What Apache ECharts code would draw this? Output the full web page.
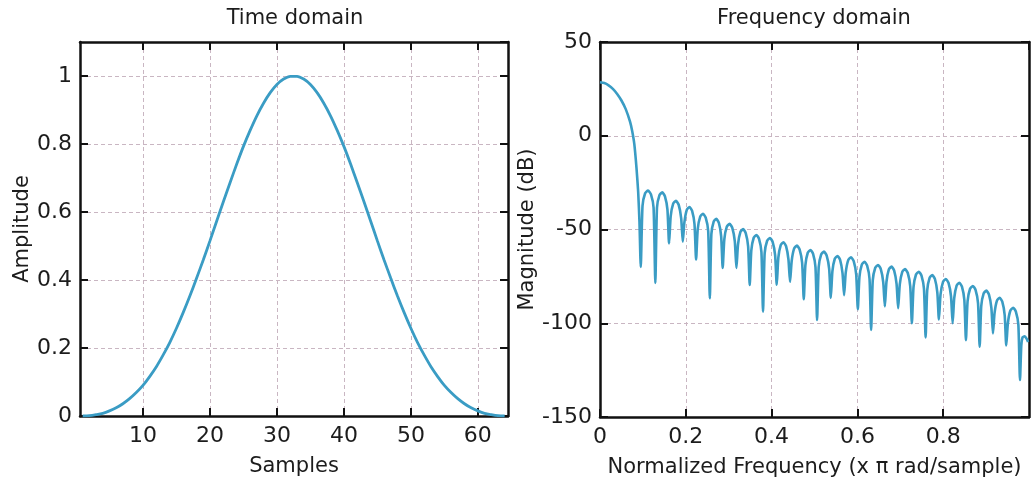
<!DOCTYPE html>
<html>
<head>
<meta charset="utf-8">
<script src="https://cdn.jsdelivr.net/npm/echarts@6/dist/echarts.min.js"></script>
<style>
  html, body { margin: 0; background: #fff; }
  #chart { width: 1033px; height: 480px; }
</style>
</head>
<body>
<div id="chart"></div>
<script>
// time domain: window samples 1..64
const samples = Array.from({ length: 64 }, (_, i) => i + 1);
const amplitude = [
  0, 0.001, 0.004, 0.008, 0.015, 0.024, 0.036, 0.051, 0.069, 0.090, 0.116, 0.145, 0.179, 0.216, 0.258, 0.304,
  0.353, 0.405, 0.459, 0.515, 0.573, 0.630, 0.686, 0.741, 0.793, 0.840, 0.883, 0.920, 0.951, 0.975, 0.991, 0.999,
  0.999, 0.991, 0.975, 0.951, 0.920, 0.883, 0.840, 0.793, 0.741, 0.686, 0.630, 0.573, 0.515, 0.459, 0.405, 0.353,
  0.304, 0.258, 0.216, 0.179, 0.145, 0.116, 0.090, 0.069, 0.051, 0.036, 0.024, 0.015, 0.008, 0.004, 0.001, 0
];
const sampleTicks = [10, 20, 30, 40, 50, 60];

// frequency domain (normalized freq, dB)
const mainLobe = [
  [0, 28.5], [0.01, 28.1], [0.02, 26.9], [0.03, 25.0], [0.04, 22.3], [0.05, 18.8], [0.06, 14.2],
  [0.07, 7.5], [0.075, 2.5], [0.08, -4.5], [0.085, -17], [0.089, -30], [0.092, -46]
];
const nullFreq = [0.095, 0.129, 0.161, 0.193, 0.224, 0.256, 0.286, 0.318, 0.349, 0.380, 0.412, 0.443, 0.475, 0.506, 0.538,
  0.569, 0.601, 0.632, 0.664, 0.695, 0.727, 0.759, 0.790, 0.822, 0.853, 0.885, 0.916, 0.947, 0.979];
const nullDb = [-70, -78.5, -57.4, -56.5, -66, -86.7, -70.5, -70.5, -79.6, -93.8, -79.5, -77.9, -87.2, -98.3, -86.5,
  -85, -92.5, -103.6, -91, -92, -100, -107.6, -98, -100, -109, -112.5, -105.4, -111.8, -130.3];
// sidelobe arcs between consecutive nulls
const lobeFreq = [
  [0.0991, 0.1052, 0.112, 0.1188, 0.1249],
  [0.1328, 0.1386, 0.145, 0.1514, 0.1572],
  [0.1648, 0.1706, 0.177, 0.1834, 0.1892],
  [0.1967, 0.2023, 0.2085, 0.2147, 0.2203],
  [0.2278, 0.2336, 0.240, 0.2464, 0.2522],
  [0.2596, 0.265, 0.271, 0.277, 0.2824],
  [0.2898, 0.2956, 0.302, 0.3084, 0.3142],
  [0.3217, 0.3273, 0.3335, 0.3397, 0.3453],
  [0.3527, 0.3583, 0.3645, 0.3707, 0.3763],
  [0.3838, 0.3896, 0.396, 0.4024, 0.4082],
  [0.4157, 0.4213, 0.4275, 0.4337, 0.4393],
  [0.4468, 0.4526, 0.459, 0.4654, 0.4712],
  [0.4787, 0.4843, 0.4905, 0.4967, 0.5023],
  [0.5098, 0.5156, 0.522, 0.5284, 0.5342],
  [0.5417, 0.5473, 0.5535, 0.5597, 0.5653],
  [0.5728, 0.5786, 0.585, 0.5914, 0.5972],
  [0.6047, 0.6103, 0.6165, 0.6227, 0.6283],
  [0.6358, 0.6416, 0.648, 0.6544, 0.6602],
  [0.6677, 0.6733, 0.6795, 0.6857, 0.6913],
  [0.6988, 0.7046, 0.711, 0.7174, 0.7232],
  [0.7308, 0.7366, 0.743, 0.7494, 0.7552],
  [0.7627, 0.7683, 0.7745, 0.7807, 0.7863],
  [0.7938, 0.7996, 0.806, 0.8124, 0.8182],
  [0.8257, 0.8313, 0.8375, 0.8437, 0.8493],
  [0.8568, 0.8626, 0.869, 0.8754, 0.8812],
  [0.8887, 0.8943, 0.9005, 0.9067, 0.9123],
  [0.9197, 0.9253, 0.9315, 0.9377, 0.9433],
  [0.9508, 0.9566, 0.963, 0.9694, 0.9752]
];
const lobeDb = [
  [-37.4, -30.7, -29.2, -31.3, -38.4],
  [-38.4, -31.7, -30.2, -32.3, -39.4],
  [-42.9, -36.2, -34.7, -36.8, -43.9],
  [-46.2, -39.5, -38, -40.1, -47.2],
  [-49.8, -43.1, -41.6, -43.7, -50.8],
  [-52.5, -45.8, -44.3, -46.4, -53.5],
  [-55.2, -48.5, -47, -49.1, -56.2],
  [-58, -51.3, -49.8, -51.9, -59],
  [-61.1, -54.4, -52.9, -55, -62.1],
  [-62.7, -56, -54.5, -56.6, -63.7],
  [-65, -58.3, -56.8, -58.9, -66],
  [-66.8, -60.1, -58.6, -60.7, -67.8],
  [-69.1, -62.4, -60.9, -63, -70.1],
  [-70, -63.3, -61.8, -63.9, -71],
  [-72.3, -65.6, -64.1, -66.2, -73.3],
  [-73, -66.3, -64.8, -66.9, -74],
  [-75.4, -68.7, -67.2, -69.3, -76.4],
  [-77.1, -70.4, -68.9, -71, -78.1],
  [-78, -71.3, -69.8, -71.9, -79],
  [-79.3, -72.6, -71.1, -73.2, -80.3],
  [-80.7, -74, -72.5, -74.6, -81.7],
  [-82.5, -75.8, -74.3, -76.4, -83.5],
  [-84.6, -77.9, -76.4, -78.5, -85.6],
  [-86.6, -79.9, -78.4, -80.5, -87.6],
  [-88.3, -81.6, -80.1, -82.2, -89.3],
  [-90.8, -84.1, -82.6, -84.7, -91.8],
  [-94.6, -87.9, -86.4, -88.5, -95.6],
  [-99.9, -93.2, -91.7, -93.8, -100.9]
];
const tailArc = [[0.982, -112], [0.985, -107.5], [0.99, -107], [0.995, -108.5], [0.998, -110]];

const spectrum = mainLobe.slice();
nullFreq.forEach((f, i) => {
  spectrum.push([f, nullDb[i]]);
  if (i < lobeFreq.length) {
    lobeFreq[i].forEach((lf, j) => spectrum.push([lf, lobeDb[i][j]]));
  }
});
spectrum.push(...tailArc);

const FONT = 'DejaVu Sans';
const ink = '#1c1c1c';
const curveColor = '#3a9cc4';

const gridLine = { show: true, lineStyle: { color: '#c9b6c2', type: [4, 3], width: 1 } };
const frame = { show: true, onZero: false, lineStyle: { color: '#111', width: 2.5 } };
const tick = { show: true, inside: true, length: 8, lineStyle: { color: '#111', width: 2 } };
const label = { fontFamily: FONT, fontSize: 22, color: ink };
const nameStyle = { fontFamily: FONT, fontSize: 21, color: ink };

const chart = echarts.init(document.getElementById('chart'));

chart.setOption({
  animation: false,
  backgroundColor: '#fff',
  grid: [
    { left: 80, top: 42, width: 428, height: 374, outerBoundsMode: 'none', containLabel: false },
    { left: 600, top: 42, width: 429, height: 375, outerBoundsMode: 'none', containLabel: false }
  ],
  graphic: [
    { type: 'text', x: 295, y: 19, style: { text: 'Time domain', font: '21px "DejaVu Sans"', fill: ink, textAlign: 'center', textVerticalAlign: 'middle' } },
    { type: 'text', x: 814, y: 19, style: { text: 'Frequency domain', font: '21px "DejaVu Sans"', fill: ink, textAlign: 'center', textVerticalAlign: 'middle' } }
  ],
  xAxis: [
    {
      gridIndex: 0, type: 'value', position: 'bottom', min: 0.6, max: 64.5,
      axisLine: frame,
      axisTick: { ...tick, customValues: sampleTicks },
      axisLabel: { ...label, margin: 9, customValues: sampleTicks },
      splitLine: gridLine,
      name: 'Samples', nameLocation: 'middle', nameGap: 40, nameTextStyle: nameStyle
    },
    {
      gridIndex: 0, type: 'value', position: 'top', min: 0.6, max: 64.5,
      axisLine: frame,
      axisTick: { ...tick, customValues: sampleTicks },
      axisLabel: { show: false, customValues: sampleTicks },
      splitLine: { show: false }
    },
    {
      gridIndex: 1, type: 'value', position: 'bottom', min: 0, max: 1, interval: 0.2,
      axisLine: frame, axisTick: tick,
      axisLabel: { ...label, margin: 9, showMaxLabel: false },
      splitLine: gridLine,
      name: 'Normalized Frequency (x \u03c0 rad/sample)', nameLocation: 'middle', nameGap: 40, nameTextStyle: nameStyle
    },
    {
      gridIndex: 1, type: 'value', position: 'top', min: 0, max: 1, interval: 0.2,
      axisLine: frame, axisTick: tick, axisLabel: { show: false }, splitLine: { show: false }
    }
  ],
  yAxis: [
    {
      gridIndex: 0, type: 'value', position: 'left', min: 0, max: 1.1, interval: 0.2,
      axisLine: frame, axisTick: tick,
      axisLabel: { ...label, margin: 8, showMaxLabel: false },
      splitLine: gridLine,
      name: 'Amplitude', nameLocation: 'middle', nameGap: 46, nameTextStyle: nameStyle
    },
    {
      gridIndex: 0, type: 'value', position: 'right', min: 0, max: 1.1, interval: 0.2,
      axisLine: frame, axisTick: tick, axisLabel: { show: false }, splitLine: { show: false }
    },
    {
      gridIndex: 1, type: 'value', position: 'left', min: -150, max: 50, interval: 50,
      axisLine: frame, axisTick: tick,
      axisLabel: { ...label, margin: 8 },
      splitLine: gridLine,
      name: 'Magnitude (dB)', nameLocation: 'middle', nameGap: 43, nameTextStyle: nameStyle
    },
    {
      gridIndex: 1, type: 'value', position: 'right', min: -150, max: 50, interval: 50,
      axisLine: frame, axisTick: tick, axisLabel: { show: false }, splitLine: { show: false }
    }
  ],
  series: [
    {
      type: 'line', xAxisIndex: 0, yAxisIndex: 0,
      data: samples.map((s, i) => [s, amplitude[i]]),
      showSymbol: false, smooth: 0.3,
      lineStyle: { color: curveColor, width: 2.8 }
    },
    {
      type: 'line', xAxisIndex: 2, yAxisIndex: 2,
      data: spectrum,
      showSymbol: false, smooth: 0.2,
      lineStyle: { color: curveColor, width: 2.6 }
    }
  ]
});
</script>
</body>
</html>
